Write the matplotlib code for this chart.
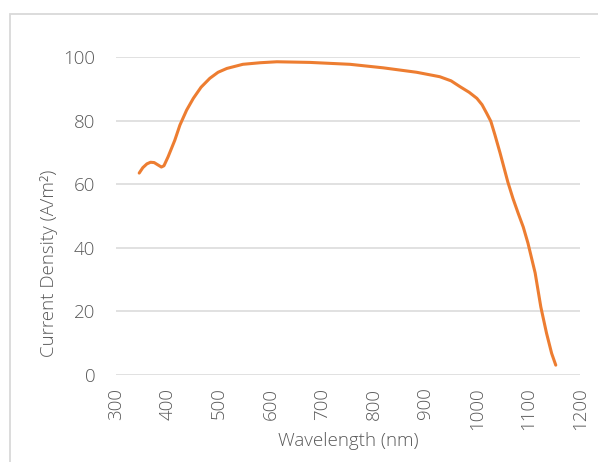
import matplotlib
matplotlib.use('Agg')
import matplotlib.pyplot as plt
from matplotlib.patches import Rectangle

# values
wavelength = [345, 352, 360, 367, 374, 382, 388, 393, 401, 414, 424, 437, 450, 465, 482,
              498, 515, 546, 580, 612, 676, 754, 818, 883, 928, 950, 967, 985, 1000, 1010,
              1019, 1027, 1035, 1045, 1060, 1070, 1080, 1090, 1099, 1113, 1124, 1135,
              1145, 1153]
current = [63.5, 65.2, 66.4, 66.9, 66.8, 66.0, 65.4, 65.8, 68.6, 73.8, 78.6, 83.3, 87.0,
           90.5, 93.3, 95.2, 96.4, 97.7, 98.2, 98.5, 98.3, 97.7, 96.6, 95.2, 93.8, 92.5,
           90.7, 88.9, 87.0, 85.0, 82.3, 79.8, 75.5, 69.8, 60.7, 55.5, 50.9, 46.5, 41.5,
           32.1, 21.4, 13.2, 6.8, 3.1]
x_ticks = [300, 400, 500, 600, 700, 800, 900, 1000, 1100, 1200]
y_ticks = [0, 20, 40, 60, 80, 100]

TEXT = '#595959'
plt.rcParams['font.family'] = ['Open Sans', 'DejaVu Sans']
plt.rcParams['font.weight'] = 'light'
plt.rcParams['axes.labelweight'] = 'light'

fig = plt.figure(figsize=(5.98, 4.62), dpi=100)
ax = fig.add_axes([116 / 598, 1 - 375 / 462, 464 / 598, 318 / 462])

# light frame around the chart area, like the Excel chart border
fig.patches.append(Rectangle((10 / 598, -0.05), 1.2, 1 - 14 / 462 + 0.05,
                             transform=fig.transFigure, fill=False,
                             edgecolor='#D9D9D9', linewidth=1.3))

ax.plot(wavelength, current, color='#ED7D31', linewidth=2.2, solid_capstyle='round',
        solid_joinstyle='round', zorder=3)

ax.set_xlim(300, 1200)
ax.set_ylim(0, 100)
ax.set_xticks(x_ticks)
ax.set_yticks(y_ticks)
ax.set_xticklabels([str(t) for t in x_ticks], rotation=90)

for s in ax.spines.values():
    s.set_visible(False)
ax.grid(axis='y', color='#D9D9D9', linewidth=1.1)
ax.set_axisbelow(True)
ax.tick_params(axis='both', length=0, labelsize=13.5, labelcolor=TEXT)
ax.tick_params(axis='y', pad=15)
ax.tick_params(axis='x', pad=9)

ax.set_xlabel('Wavelength (nm)', fontsize=13.5, color=TEXT, fontweight='light')
ax.set_ylabel('Current Density (A/m\u00b2)', fontsize=13.5, color=TEXT, fontweight='light')
ax.xaxis.set_label_coords(0.5, -0.18)
ax.yaxis.set_label_coords(-0.126, 0.35)

fig.savefig('out.png', dpi=100)
